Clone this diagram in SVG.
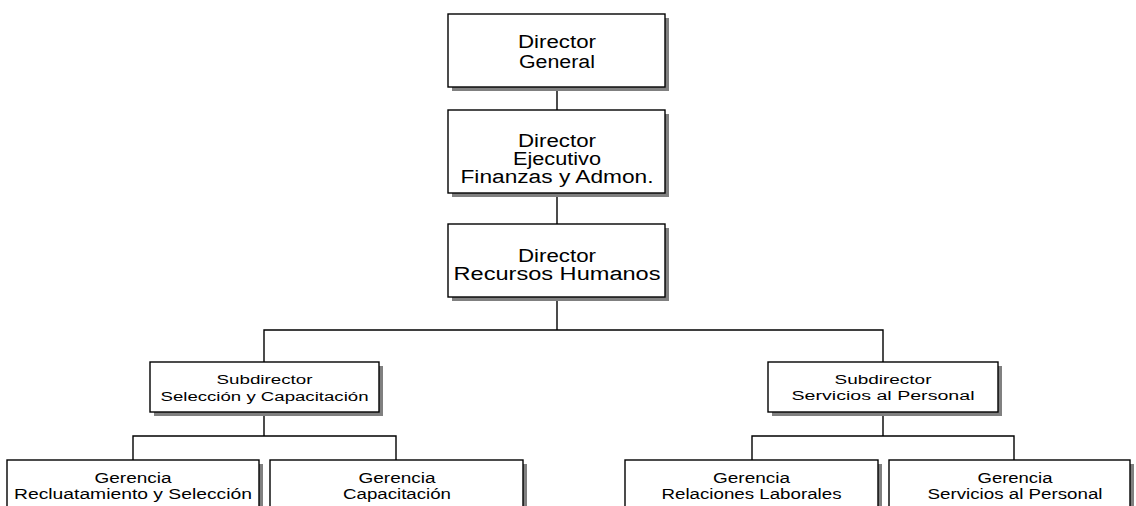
<svg xmlns="http://www.w3.org/2000/svg" width="1136" height="506" viewBox="0 0 1136 506">
  <style>
    .box { fill: #ffffff; stroke: #000000; stroke-width: 1.4; }
    .shadow { fill: #808080; stroke: none; }
    .link { fill: none; stroke: #000000; stroke-width: 1.4; }
    text { font-family: "Liberation Sans", Arial, sans-serif; fill: #000000; text-anchor: middle; }
    .t1 { font-size: 18px; }
    .t2 { font-size: 12.5px; }
    .t3 { font-size: 14px; }
  </style>

  <!-- connectors -->
  <g id="connectors">
    <path class="link" d="M557,87 V110 M557,193 V224 M557,297 V330"/>
    <path class="link" d="M264,362 V330 H883 V362"/>
    <path class="link" d="M264,412 V436 M133,460 V436 H396 V460"/>
    <path class="link" d="M883,412 V436 M752,460 V436 H1014 V460"/>
  </g>

  <!-- top level -->
  <g id="director-general">
    <rect class="shadow" x="452" y="18" width="217" height="73"/>
    <rect class="box" x="448" y="14" width="217" height="73"/>
    <text class="t1" x="557" y="48" textLength="78" lengthAdjust="spacingAndGlyphs">Director</text>
    <text class="t1" x="557" y="68" textLength="76" lengthAdjust="spacingAndGlyphs">General</text>
  </g>

  <g id="director-ejecutivo">
    <rect class="shadow" x="452" y="114" width="217" height="83"/>
    <rect class="box" x="448" y="110" width="217" height="83"/>
    <text class="t1" x="557" y="147" textLength="78" lengthAdjust="spacingAndGlyphs">Director</text>
    <text class="t1" x="557" y="165" textLength="88" lengthAdjust="spacingAndGlyphs">Ejecutivo</text>
    <text class="t1" x="557" y="183" textLength="193" lengthAdjust="spacingAndGlyphs">Finanzas y Admon.</text>
  </g>

  <g id="director-rh">
    <rect class="shadow" x="452" y="228" width="217" height="73"/>
    <rect class="box" x="448" y="224" width="217" height="73"/>
    <text class="t1" x="557" y="262" textLength="78" lengthAdjust="spacingAndGlyphs">Director</text>
    <text class="t1" x="557" y="280" textLength="207" lengthAdjust="spacingAndGlyphs">Recursos Humanos</text>
  </g>

  <!-- second level -->
  <g id="sub-seleccion">
    <rect class="shadow" x="154" y="366" width="229" height="50"/>
    <rect class="box" x="150" y="362" width="229" height="50"/>
    <text class="t2" x="264.5" y="384" textLength="96" lengthAdjust="spacingAndGlyphs">Subdirector</text>
    <text class="t2" x="264.5" y="401" textLength="208" lengthAdjust="spacingAndGlyphs">Selección y Capacitación</text>
  </g>

  <g id="sub-servicios">
    <rect class="shadow" x="772" y="366" width="230" height="50"/>
    <rect class="box" x="768" y="362" width="230" height="50"/>
    <text class="t2" x="883" y="384" textLength="97" lengthAdjust="spacingAndGlyphs">Subdirector</text>
    <text class="t2" x="883" y="400" textLength="183" lengthAdjust="spacingAndGlyphs">Servicios al Personal</text>
  </g>

  <!-- third level -->
  <g id="ger-reclutamiento">
    <rect class="shadow" x="11" y="464" width="252" height="60"/>
    <rect class="box" x="7" y="460" width="252" height="60"/>
    <text class="t3" x="133" y="483" textLength="77" lengthAdjust="spacingAndGlyphs">Gerencia</text>
    <text class="t3" x="133" y="499" textLength="238" lengthAdjust="spacingAndGlyphs">Recluatamiento y Selección</text>
  </g>

  <g id="ger-capacitacion">
    <rect class="shadow" x="274" y="464" width="253" height="60"/>
    <rect class="box" x="270" y="460" width="253" height="60"/>
    <text class="t3" x="397" y="483" textLength="77" lengthAdjust="spacingAndGlyphs">Gerencia</text>
    <text class="t3" x="397" y="499" textLength="108" lengthAdjust="spacingAndGlyphs">Capacitación</text>
  </g>

  <g id="ger-relaciones">
    <rect class="shadow" x="629" y="464" width="253" height="60"/>
    <rect class="box" x="625" y="460" width="253" height="60"/>
    <text class="t3" x="751.5" y="483" textLength="77" lengthAdjust="spacingAndGlyphs">Gerencia</text>
    <text class="t3" x="751.5" y="499" textLength="180" lengthAdjust="spacingAndGlyphs">Relaciones Laborales</text>
  </g>

  <g id="ger-servicios">
    <rect class="shadow" x="893" y="464" width="241" height="60"/>
    <rect class="box" x="889" y="460" width="241" height="60"/>
    <text class="t3" x="1015" y="483" textLength="75" lengthAdjust="spacingAndGlyphs">Gerencia</text>
    <text class="t3" x="1015" y="499" textLength="175" lengthAdjust="spacingAndGlyphs">Servicios al Personal</text>
  </g>
</svg>
